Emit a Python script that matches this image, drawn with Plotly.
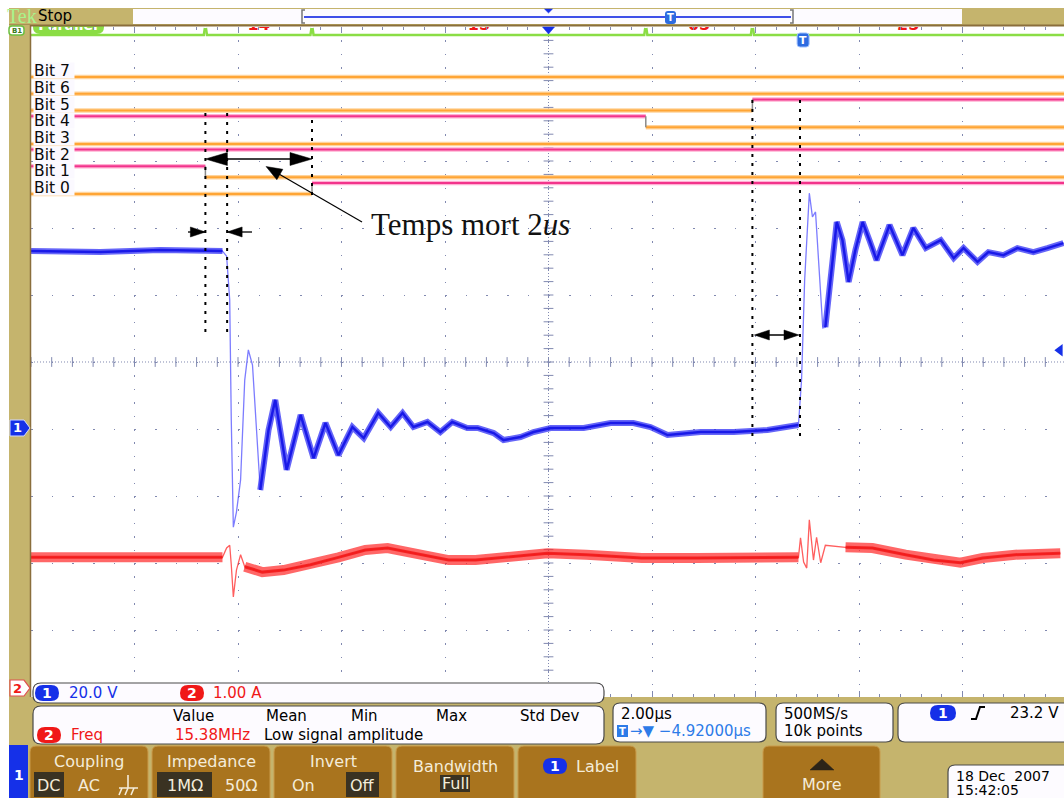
import plotly.graph_objects as go

# ---------------- data ----------------
# Channel 1 (20 V/div) : time in microseconds, value in volts
ch1_t = [-10.0, -8.66, -7.50, -6.30, -6.22, -6.16, -6.13, -6.09, -6.03, -5.95, -5.87, -5.80,
         -5.72, -5.57, -5.41, -5.28, -5.06, -4.79, -4.54, -4.31, -4.06, -3.79, -3.57, -3.29,
         -3.05, -2.82, -2.61, -2.34, -2.09, -1.86, -1.57, -1.37, -1.06, -0.87, -0.54, -0.29,
         0.04, 0.68, 1.20, 1.64, 1.97, 2.30, 2.94, 3.58, 4.23, 4.83, 4.89, 4.95, 5.04, 5.10,
         5.16, 5.30, 5.35, 5.45, 5.57, 5.68, 5.80, 5.93, 6.07, 6.20, 6.34, 6.59, 6.84, 7.05,
         7.29, 7.58, 7.83, 8.02, 8.29, 8.50, 8.79, 9.06, 9.37, 9.64, 9.95]
ch1_v = [52.8, 52.5, 53.1, 52.8, 51.3, 38.2, 2.4, -29.6, -25.1, -15.5, 14.3, 23.3,
         18.8, -18.5, -0.6, 8.4, -12.5, 3.9, -9.0, 1.5, -8.1, 0.3, -3.0, 4.5,
         0.3, 4.5, 0.3, 1.8, -1.2, 1.8, 0.0, 0.0, -1.5, -3.6, -2.7, -1.2,
         0.0, 0.0, 1.5, 1.5, 0.3, -2.1, -1.2, -1.2, -0.6, 0.9, 14.3, 44.2, 70.1, 63.0,
         64.5, 29.9, 30.1, 44.2, 61.5, 56.1, 43.6, 53.1, 61.5, 56.1, 50.1, 60.6, 51.6, 59.7,
         53.7, 56.1, 50.7, 53.7, 49.6, 52.5, 51.6, 53.7, 52.5, 53.7, 55.2]

# Channel 2 (1 A/div) : time in microseconds, value in amperes
ch2_t = [-10.0, -8.27, -6.30, -6.22, -6.16, -6.13, -6.09, -6.03, -5.95, -5.87, -5.53, -5.12,
         -4.60, -4.06, -3.54, -3.11, -2.47, -1.93, -1.41, -0.87, -0.02, 0.73, 1.80, 2.86,
         3.92, 4.83, 4.87, 4.93, 4.99, 5.04, 5.12, 5.18, 5.26, 5.35, 5.74, 6.26, 6.90,
         7.44, 7.96, 8.39, 9.02, 9.89]
ch2_a = [1.95, 1.95, 1.95, 2.09, 2.13, 1.84, 1.36, 1.76, 1.99, 1.81, 1.73, 1.76,
         1.84, 1.95, 2.06, 2.09, 1.99, 1.91, 1.91, 1.95, 2.01, 1.99, 1.94, 1.94,
         1.95, 1.95, 2.24, 1.88, 1.79, 2.51, 1.91, 2.25, 1.87, 2.13, 2.10, 2.09, 1.99,
         1.91, 1.87, 1.94, 1.99, 2.01]

# Digital channels
bit_names = ["Bit 7", "Bit 6", "Bit 5", "Bit 4", "Bit 3", "Bit 2", "Bit 1", "Bit 0"]
bit_start = [0, 0, 0, 1, 0, 1, 1, 0]
bit_toggle_us = [None, None, 3.94, 1.88, None, None, -6.63, -4.57]
ch1_edges_us = [-6.21, 4.86]

# Scope settings / readouts
time_per_div = 2.0
ch1_volts_per_div = 20.0
ch2_amps_per_div = 1.0
ch1_offset_div = -0.985
ch2_offset_div = -4.866
trigger_level_v = 23.2
trigger_pos_us = 4.92
scale_texts = ["20.0 V", "1.00 A"]
meas_headers = ["Value", "Mean", "Min", "Max", "Std Dev"]
meas_row = ["Freq", "15.38MHz", "Low signal amplitude"]
time_texts = ["2.00µs", "→▼ −4.92000µs"]
sample_texts = ["500MS/s", "10k points"]
trigger_text = "23.2 V"
date_texts = ["18 Dec  2007", "15:42:05"]
annot_text = "Temps mort 2<i>us</i>"

# ---------------- geometry helpers ----------------
W, H = 1064, 798
GL, GR, GT, GB = 31, 1064, 27, 697
DIVX, DIVY = 103.5, 67.0
XR0 = -5 * time_per_div
XR1 = XR0 + (GR - GL) / DIVX * time_per_div
DIG_BASE, DIG_PITCH, DIG_HIGH = 194.0, 16.7, 0.66

def tpx(t):
    return GL + (t - XR0) / time_per_div * DIVX

def dpy(v):
    return DIG_BASE - DIG_PITCH * v

def P(x, y):
    return f"{x / W:.5f},{1 - y / H:.5f}"

UI = "DejaVu Sans"
GRIDC = "#8189B0"
TAN = "#C5B46D"
OCHRE = "#A9741E"
BOXFILL = "#FDFBFF"
BOXLINE = "#4A4A4A"
BLUE = "#1530E8"
RED = "#F01818"

shapes = []
ann = []

def add_path(d, fill=None, line="black", lw=1, layer="above", dash=None):
    s = dict(type="path", path=d, xref="paper", yref="paper", layer=layer,
             line=dict(color=line, width=lw))
    if dash:
        s["line"]["dash"] = dash
    if fill:
        s["fillcolor"] = fill
    shapes.append(s)

def rect(x0, y0, x1, y1, fill, line=None, lw=0, layer="above"):
    shapes.append(dict(type="rect", xref="paper", yref="paper", x0=x0 / W, x1=x1 / W,
                       y0=1 - y1 / H, y1=1 - y0 / H, fillcolor=fill, layer=layer,
                       line=dict(color=line or fill, width=lw)))

def rrect(x0, y0, x1, y1, r, fill, line=None, lw=1, layer="above", rt=None, rb=None):
    rt = r if rt is None else rt
    rb = r if rb is None else rb
    d = " ".join([
        f"M{P(x0 + rt, y0)}", f"L{P(x1 - rt, y0)}", f"Q{P(x1, y0)} {P(x1, y0 + rt)}",
        f"L{P(x1, y1 - rb)}", f"Q{P(x1, y1)} {P(x1 - rb, y1)}", f"L{P(x0 + rb, y1)}",
        f"Q{P(x0, y1)} {P(x0, y1 - rb)}", f"L{P(x0, y0 + rt)}", f"Q{P(x0, y0)} {P(x0 + rt, y0)}", "Z"])
    add_path(d, fill=fill, line=line or fill, lw=lw if line else 0, layer=layer)

def line(x0, y0, x1, y1, color="black", lw=1, dash=None, layer="above"):
    add_path(f"M{P(x0, y0)} L{P(x1, y1)}", line=color, lw=lw, dash=dash, layer=layer)

def tri(tipx, tipy, fromx, fromy, L, w, color="black"):
    dx, dy = tipx - fromx, tipy - fromy
    n = (dx * dx + dy * dy) ** 0.5
    ux, uy = dx / n, dy / n
    bx, by = tipx - ux * L, tipy - uy * L
    px_, py_ = -uy, ux
    add_path(f"M{P(tipx, tipy)} L{P(bx + px_ * w, by + py_ * w)} L{P(bx - px_ * w, by - py_ * w)} Z",
             fill=color, line=color, lw=0.5)

def text(x, y, s, size=15, color="black", anchor="left", family=UI, bg=None, width=None, height=None):
    a = dict(x=x / W, y=1 - y / H, xref="paper", yref="paper", text=s, showarrow=False,
             xanchor=anchor, yanchor="middle", font=dict(size=size, color=color, family=family),
             borderpad=0)
    if bg:
        a["bgcolor"] = bg
    if width:
        a["width"] = width
        a["align"] = "left"
    if height:
        a["height"] = height
    ann.append(a)

def pill(x0, x1, yc, h, color, label, tcolor="white", size=14):
    rrect(x0, yc - h / 2, x1, yc + h / 2, h / 2, color)
    text((x0 + x1) / 2, yc, f"<b>{label}</b>", size=size, color=tcolor, anchor="center")

fig = go.Figure()

# ---------------- graticule extras ----------------
line(tpx(0), GT, tpx(0), GB, color=GRIDC, lw=1, dash="1px,2px", layer="below")
line(GL, GT + 5 * DIVY, GR, GT + 5 * DIVY, color=GRIDC, lw=1, dash="1px,2px", layer="below")
n_minor_x = int((XR1 - XR0) / (time_per_div / 5)) + 1
fig.add_trace(go.Scatter(x=[XR0 + i * time_per_div / 5 for i in range(n_minor_x)], y=[0] * n_minor_x,
                         mode="markers", marker=dict(symbol="line-ns", size=7, line=dict(color=GRIDC, width=1)),
                         yaxis="y", hoverinfo="skip"))
fig.add_trace(go.Scatter(x=[0] * 51, y=[-5 + i * 0.2 for i in range(51)],
                         mode="markers", marker=dict(symbol="line-ew", size=7, line=dict(color=GRIDC, width=1)),
                         yaxis="y", hoverinfo="skip"))

# ---------------- digital channels ----------------
lo_x, lo_y, hi_x, hi_y, tr_x, tr_y = [], [], [], [], [], []
for i, name in enumerate(bit_names):
    k = 7 - i
    st = bit_start[i]
    tg = bit_toggle_us[i]
    segs = [(XR0, XR1, st)] if tg is None else [(XR0, tg, st), (tg, XR1, 1 - st)]
    for a, b, s in segs:
        yy = k + DIG_HIGH * s
        if s:
            hi_x += [a, b, None]; hi_y += [yy, yy, None]
        else:
            lo_x += [a, b, None]; lo_y += [yy, yy, None]
    if tg is not None:
        tr_x += [tg, tg, None]; tr_y += [k, k + DIG_HIGH, None]
    text(33, dpy(k) - 6.5, name, size=15.5, color="#0A0A0A", bg="#FBF9FF", width=40, height=15)

fig.add_trace(go.Scatter(x=lo_x, y=lo_y, mode="lines", line=dict(color="#FFD49C", width=4.5), yaxis="y4", hoverinfo="skip"))
fig.add_trace(go.Scatter(x=lo_x, y=lo_y, mode="lines", line=dict(color="#FFA535", width=2), yaxis="y4", hoverinfo="skip"))
fig.add_trace(go.Scatter(x=hi_x, y=hi_y, mode="lines", line=dict(color="#FFB0D2", width=4.5), yaxis="y4", hoverinfo="skip"))
fig.add_trace(go.Scatter(x=hi_x, y=hi_y, mode="lines", line=dict(color="#F2338C", width=2), yaxis="y4", hoverinfo="skip"))
fig.add_trace(go.Scatter(x=tr_x, y=tr_y, mode="lines", line=dict(color="#8A8A8A", width=1.5), yaxis="y4", hoverinfo="skip"))

# bus line with transitions
toggles = sorted(t for t in bit_toggle_us if t is not None)
bus_y = (DIG_BASE - 35) / DIG_PITCH
bus_top = (DIG_BASE - 28) / DIG_PITCH
bx, by = [XR0], [bus_y]
for t in toggles:
    bx += [t - 0.03, t - 0.01, None, t + 0.01, t + 0.03]
    by += [bus_y, bus_top, None, bus_top, bus_y]
bx.append(XR1); by.append(bus_y)
fig.add_trace(go.Scatter(x=bx, y=by, mode="lines", line=dict(color="#8BDD45", width=2.5), yaxis="y4", hoverinfo="skip"))

# bus values (hex) computed from the bits, mostly hidden behind the header
edges = [XR0] + toggles + [XR1]
lab_x, lab_t = [], []
for j in range(1, len(edges) - 1):
    tm = (edges[j] + edges[j + 1]) / 2
    val = 0
    for i in range(8):
        k = 7 - i
        tg = bit_toggle_us[i]
        s = bit_start[i] if (tg is None or tm < tg) else 1 - bit_start[i]
        val |= s << k
    lab_x.append(tm); lab_t.append(f"<b>{val:02X}</b>")
fig.add_trace(go.Scatter(x=lab_x, y=[(DIG_BASE - 25.5) / DIG_PITCH] * len(lab_x), mode="text", text=lab_t,
                         textfont=dict(color=RED, size=16, family=UI), yaxis="y4", hoverinfo="skip",
                         cliponaxis=True))
# 'Parallel' bus label pill
rrect(33, 18, 104, 34, 7, "#8BDD45", layer="between")
fig.add_trace(go.Scatter(x=[XR0 + (68 - GL) / DIVX * time_per_div], y=[(DIG_BASE - 26) / DIG_PITCH], mode="text",
                         text=["<b>Parallel</b>"], textfont=dict(color="white", size=14, family=UI),
                         yaxis="y4", hoverinfo="skip", cliponaxis=True))

# ---------------- analog channels ----------------
blue_thin_windows = [(-6.27, -5.60), (4.84, 5.33)]
red_thin_windows = [(-6.26, -5.93), (4.85, 5.38)]

def masked(ts, vs, wins):
    return [None if any(a < t < b for a, b in wins) else v for t, v in zip(ts, vs)]

fig.add_trace(go.Scatter(x=ch2_t, y=ch2_a, mode="lines", line=dict(color="rgba(255,40,40,0.75)", width=1.3),
                         yaxis="y3", hoverinfo="skip"))
fig.add_trace(go.Scatter(x=ch2_t, y=masked(ch2_t, ch2_a, red_thin_windows), mode="lines",
                         line=dict(color="rgba(255,45,45,0.72)", width=10), yaxis="y3", hoverinfo="skip"))
fig.add_trace(go.Scatter(x=ch2_t, y=masked(ch2_t, ch2_a, red_thin_windows), mode="lines",
                         line=dict(color="rgba(240,20,20,0.8)", width=3), yaxis="y3", hoverinfo="skip"))
fig.add_trace(go.Scatter(x=ch1_t, y=ch1_v, mode="lines", line=dict(color="rgba(80,80,255,0.75)", width=1.3),
                         yaxis="y2", hoverinfo="skip"))
fig.add_trace(go.Scatter(x=ch1_t, y=masked(ch1_t, ch1_v, blue_thin_windows), mode="lines",
                         line=dict(color="rgba(50,50,245,0.75)", width=6), yaxis="y2", hoverinfo="skip"))
fig.add_trace(go.Scatter(x=ch1_t, y=masked(ch1_t, ch1_v, blue_thin_windows), mode="lines",
                         line=dict(color="rgba(20,20,230,0.9)", width=2.5), yaxis="y2", hoverinfo="skip"))
# trigger level marker on the right edge
fig.add_trace(go.Scatter(x=[XR1 - 0.08], y=[trigger_level_v], mode="markers",
                         marker=dict(symbol="triangle-left", size=11, color=BLUE), yaxis="y2",
                         hoverinfo="skip", cliponaxis=False))

# ---------------- annotations (dead time) ----------------
b1 = tpx(bit_toggle_us[6]); b0 = tpx(bit_toggle_us[7]); b5 = tpx(bit_toggle_us[2])
e1 = tpx(ch1_edges_us[0]); e2 = tpx(ch1_edges_us[1])
DOT = "3px,6px"
line(b1, 113, b1, 337, lw=2, dash=DOT)
line(e1, 113, e1, 337, lw=2, dash=DOT)
line(b0, 120, b0, 195, lw=2, dash=DOT)
line(b5, 100, b5, 442, lw=2, dash=DOT)
line(e2, 100, e2, 442, lw=2, dash=DOT)
# double arrow over the digital dead time
line(b1 + 10, 159, b0 - 10, 159, lw=1.3)
tri(b1, 159, b0, 159, 22, 6.5)
tri(b0, 159, b1, 159, 22, 6.5)
# inward arrows at the analog edge
line(188, 232, b1, 232, lw=1.3)
tri(b1, 232, 188, 232, 15, 5)
line(e1, 232, 252, 232, lw=1.3)
tri(e1, 232, 252, 232, 15, 5)
# double arrow on second transition
line(b5 + 4, 335, e2 - 4, 335, lw=1.3)
tri(b5 + 2, 335, e2, 335, 15, 5)
tri(e2 - 1, 335, b5, 335, 15, 5)
# pointer line
line(362, 222, 272, 170, lw=1.2)
tri(266, 166.5, 362, 222, 16, 6)
text(370, 225, annot_text, size=31, family="Liberation Serif", color="#111111")

# ---------------- screen chrome ----------------
# header
rect(9, 8, 1064, 25, TAN)
text(6, 15.5, "Tek", size=20, color="#A8F58C", family="Liberation Serif")
text(37, 16, "Stop", size=15, color="black")
rect(133, 9, 300, 24, BOXFILL)
rect(300, 9, 795, 24, BOXFILL)
rect(795, 9, 962, 24, BOXFILL)
add_path(f"M{P(305, 10)} L{P(302, 10)} L{P(302, 23)} L{P(305, 23)}", line="#777777", lw=1.5)
add_path(f"M{P(790, 10)} L{P(793, 10)} L{P(793, 23)} L{P(790, 23)}", line="#777777", lw=1.5)
line(304, 17, 791, 17, color="#4050E8", lw=2)
add_path(f"M{P(tpx(0) - 4, 9)} L{P(tpx(0) + 4, 9)} L{P(tpx(0), 13)} Z", fill=BLUE, line=BLUE, lw=0.5)
rrect(665, 11, 676, 24, 3, "#2D6BE0")
text(670.5, 17.5, "<b>T</b>", size=10, color="white", anchor="center")
line(9, 25.5, 1064, 25.5, color="#8A6E3C", lw=2)
# trigger position marker and T icon
add_path(f"M{P(tpx(0) - 6, 27)} L{P(tpx(0) + 6, 27)} L{P(tpx(0), 34)} Z", fill=BLUE, line=BLUE, lw=0.5)
rrect(tpx(trigger_pos_us) - 6, 33, tpx(trigger_pos_us) + 6, 47, 3, "#2D6BE0", line="#9EC0FF", lw=1)
text(tpx(trigger_pos_us), 40, "<b>T</b>", size=11, color="white", anchor="center")

# left side bar
rect(9, 25, 30, 697, TAN)
line(30.5, 25, 30.5, 697, color="#8A6E3C", lw=1.5)
rrect(9, 26, 24, 35, 3, "#FFFFFF", line="#6CBF40", lw=1.5)
text(16.5, 30.5, "<b>B1</b>", size=7, color="#3A7A20", anchor="center")
py1 = GT + 5 * DIVY - ch1_offset_div * DIVY
add_path(f"M{P(10, py1 - 8)} L{P(24, py1 - 8)} L{P(30, py1)} L{P(24, py1 + 8)} L{P(10, py1 + 8)} Z",
         fill=BLUE, line="#D0D8FF", lw=1)
text(17, py1, "<b>1</b>", size=13, color="white", anchor="center")

# bottom area
rect(9, 697, 1064, 798, TAN)
py2 = GT + 5 * DIVY - ch2_offset_div * DIVY
add_path(f"M{P(10, py2 - 8)} L{P(24, py2 - 8)} L{P(30, py2)} L{P(24, py2 + 8)} L{P(10, py2 + 8)} Z",
         fill="white", line="#E05050", lw=1.2)
text(17, py2, "<b>2</b>", size=13, color=RED, anchor="center")

# scale readout box
rrect(33, 683, 604, 703, 8, BOXFILL, line=BOXLINE, lw=1.2)
pill(35, 59, 693, 16, BLUE, "1")
text(68, 693, scale_texts[0], size=15, color=BLUE)
pill(180, 204, 693, 16, RED, "2")
text(212, 693, scale_texts[1], size=15, color=RED)

# measurement box
rrect(33, 706, 604, 744, 8, BOXFILL, line=BOXLINE, lw=1.2)
for hx, h in zip([172, 265, 350, 435, 519], meas_headers):
    text(hx, 716, h, size=15)
pill(37, 61, 735, 16, RED, "2")
text(70, 735, meas_row[0], size=15, color=RED)
text(174, 735, meas_row[1], size=15, color=RED)
text(263, 735, meas_row[2], size=15)

# time box
rrect(613, 703, 766, 742, 7, BOXFILL, line=BOXLINE, lw=1.2)
text(620, 714, time_texts[0], size=15)
rect(617, 725, 628, 737, "#2D7BE8")
text(622.5, 731, "<b>T</b>", size=10, color="white", anchor="center")
text(629, 731, time_texts[1], size=15, color="#2D7BE8")

# sample box
rrect(776, 703, 893, 742, 7, BOXFILL, line=BOXLINE, lw=1.2)
text(783, 714, sample_texts[0], size=15)
text(783, 731, sample_texts[1], size=15)

# trigger box
rrect(898, 703, 1075, 742, 7, BOXFILL, line=BOXLINE, lw=1.2)
pill(930, 956, 713, 16, BLUE, "1")
add_path(f"M{P(971, 719)} L{P(976, 719)} L{P(980, 707)} L{P(985, 707)}", line="black", lw=2)
text(1009, 713, trigger_text, size=15)

# soft buttons
rect(9, 745, 28, 798, BLUE)
text(18.5, 775, "<b>1</b>", size=14, color="white", anchor="center")
buttons = [(30, 148), (152, 270), (274, 392), (396, 514), (518, 636), (763, 880)]
for x0, x1 in buttons:
    rrect(x0, 746, x1, 802, 6, OCHRE, line="#C99A4A", lw=1, rb=0)
BT = "#F4ECDA"
text(89, 761, "Coupling", size=16, color=BT, anchor="center")
rect(34, 772, 64, 797, "#3A3222")
text(49, 785, "DC", size=16, color=BT, anchor="center")
text(89, 785, "AC", size=16, color=BT, anchor="center")
add_path(" ".join([f"M{P(128, 775)} L{P(128, 788)}", f"M{P(119, 788)} L{P(138, 788)}",
                   f"M{P(122, 788)} L{P(119, 795)}", f"M{P(128, 788)} L{P(125, 795)}",
                   f"M{P(134, 788)} L{P(131, 795)}"]), line=BT, lw=1.6)
text(211, 761, "Impedance", size=16, color=BT, anchor="center")
rect(157, 772, 212, 797, "#3A3222")
text(184.5, 785, "1MΩ", size=16, color=BT, anchor="center")
text(241, 785, "50Ω", size=16, color=BT, anchor="center")
text(333, 761, "Invert", size=16, color=BT, anchor="center")
text(303, 785, "On", size=16, color=BT, anchor="center")
rect(346, 772, 379, 797, "#3A3222")
text(362.5, 785, "Off", size=16, color=BT, anchor="center")
text(455, 766, "Bandwidth", size=16, color=BT, anchor="center")
rect(440, 775, 470, 792, "#3A3222")
text(455, 783.5, "Full", size=16, color=BT, anchor="center")
pill(543, 567, 766, 16, BLUE, "1")
text(575, 766, "Label", size=16, color=BT)
add_path(f"M{P(810, 770)} L{P(834, 770)} L{P(822, 759)} Z", fill="#2C2418", line="#2C2418", lw=0.5)
text(822, 784, "More", size=16, color=BT, anchor="center")

# date box
rrect(948, 765, 1080, 805, 7, BOXFILL, line=BOXLINE, lw=1.2)
text(955, 775.5, date_texts[0], size=14)
text(955, 789.5, date_texts[1], size=14)

# ---------------- layout ----------------
ydom = [1 - GB / H, 1 - GT / H]
yrange_ch1 = [(-5 - ch1_offset_div) * ch1_volts_per_div, (5 - ch1_offset_div) * ch1_volts_per_div]
yrange_ch2 = [(-5 - ch2_offset_div) * ch2_amps_per_div, (5 - ch2_offset_div) * ch2_amps_per_div]
yrange_dig = [(DIG_BASE - GB) / DIG_PITCH, (DIG_BASE - GT) / DIG_PITCH]

fig.update_layout(
    width=W, height=H, margin=dict(l=0, r=0, t=0, b=0),
    paper_bgcolor="white", plot_bgcolor="white", showlegend=False, hovermode=False,
    xaxis=dict(domain=[GL / W, 1], range=[XR0, XR1], showgrid=True, gridcolor=GRIDC, gridwidth=1,
               griddash=f"1.5px,{DIVY / 5 - 1.5:.2f}px", dtick=time_per_div, tick0=0, zeroline=False,
               showticklabels=False, ticks="inside", ticklen=6, tickcolor=GRIDC, mirror="ticks",
               showline=False,
               minor=dict(dtick=time_per_div / 5, ticks="inside", ticklen=3, tickcolor=GRIDC, showgrid=False)),
    yaxis=dict(domain=ydom, range=[-5, 5], showgrid=True, gridcolor=GRIDC, gridwidth=1,
               griddash=f"1.5px,{DIVX / 5 - 1.5:.2f}px", dtick=1, tick0=0, zeroline=False,
               showticklabels=False, ticks="", showline=False),
    yaxis2=dict(overlaying="y", range=yrange_ch1, visible=False),
    yaxis3=dict(overlaying="y", range=yrange_ch2, visible=False),
    yaxis4=dict(overlaying="y", range=yrange_dig, visible=False),
    shapes=shapes, annotations=ann,
)

fig.write_html("out.html", config={"displayModeBar": False},
               post_script="document.body.style.margin='0px';document.body.style.overflow='hidden';")
